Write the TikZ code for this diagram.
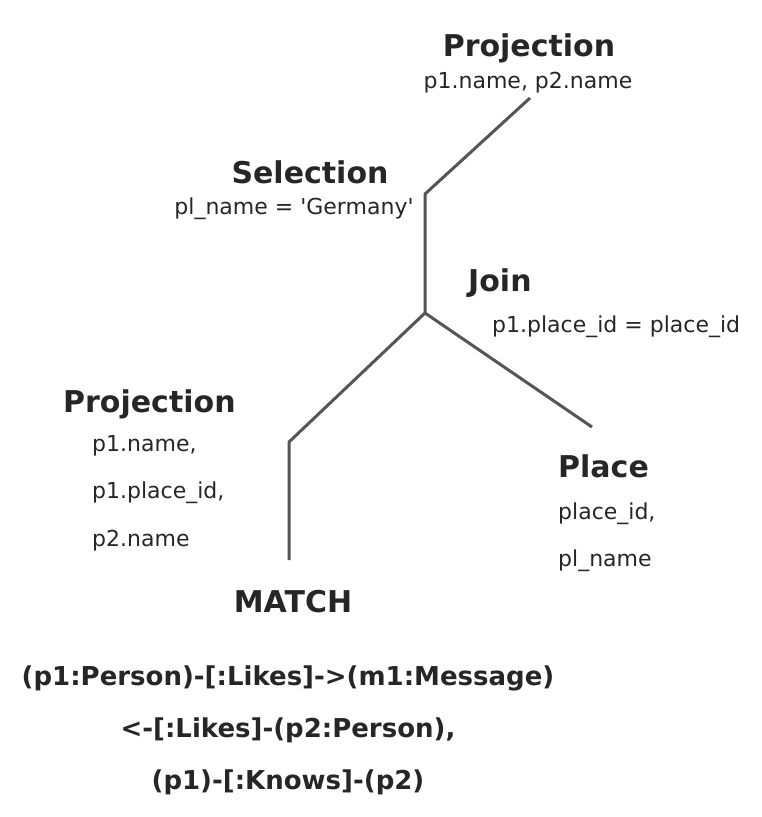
\documentclass[tikz,border=0pt]{standalone}
\usepackage{fontspec}
\setmainfont{DejaVu Sans}
\definecolor{txt}{HTML}{262626}
\definecolor{edge}{HTML}{555555}
\tikzset{
  title/.style={inner sep=0pt, text=txt, font=\fontsize{30}{36}\selectfont\bfseries},
  attr/.style={inner sep=0pt, text=txt, font=\fontsize{22}{26}\selectfont},
  code/.style={inner sep=0pt, text=txt, font=\fontsize{26}{30}\selectfont\bfseries},
  conn/.style={draw=edge, line width=3pt}
}
\begin{document}
\begin{tikzpicture}[x=1pt,y=-1pt]
\useasboundingbox (0,0) rectangle (762,817);
% nodes
\node[title, anchor=base] (projT) at (529,56) {Projection};
\node[attr, anchor=base] (projTa) at (528,88) {p1.name, p2.name};
\node[title, anchor=base] (sel) at (310,183) {Selection};
\node[attr, anchor=base] (sela) at (294,214) {pl\_name = \textquotesingle Germany\textquotesingle};
\node[title, anchor=base west] (join) at (468,291) {Join};
\node[attr, anchor=base west] (joina) at (492,332) {p1.place\_id = place\_id};
\node[title, anchor=base west] (projL) at (63,412) {Projection};
\node[attr, anchor=base west] (projLa) at (92,451) {p1.name,};
\node[attr, anchor=base west] (projLb) at (92,498) {p1.place\_id,};
\node[attr, anchor=base west] (projLc) at (92,546) {p2.name};
\node[title, anchor=base west] (place) at (558,477) {Place};
\node[attr, anchor=base west] (placea) at (558,519) {place\_id,};
\node[attr, anchor=base west] (placeb) at (558,566) {pl\_name};
\node[title, anchor=base] (match) at (293,612) {MATCH};
\node[code, anchor=base] (c1) at (288,685) {(p1:Person)-[:Likes]->(m1:Message)};
\node[code, anchor=base] (c2) at (288,737) {<-[:Likes]-(p2:Person),};
\node[code, anchor=base] (c3) at (288,789) {(p1)-[:Knows]-(p2)};
% connector points
\coordinate (top) at (530,98);
\coordinate (selc) at (425,194);
\coordinate (joinc) at (425,313);
\coordinate (projc) at (289,442);
\coordinate (matchc) at (289,560);
\coordinate (placec) at (592,427);
\draw[conn] (top) -- (selc) -- (joinc);
\draw[conn] (joinc) -- (projc) -- (matchc);
\draw[conn] (joinc) -- (placec);
\end{tikzpicture}
\end{document}
